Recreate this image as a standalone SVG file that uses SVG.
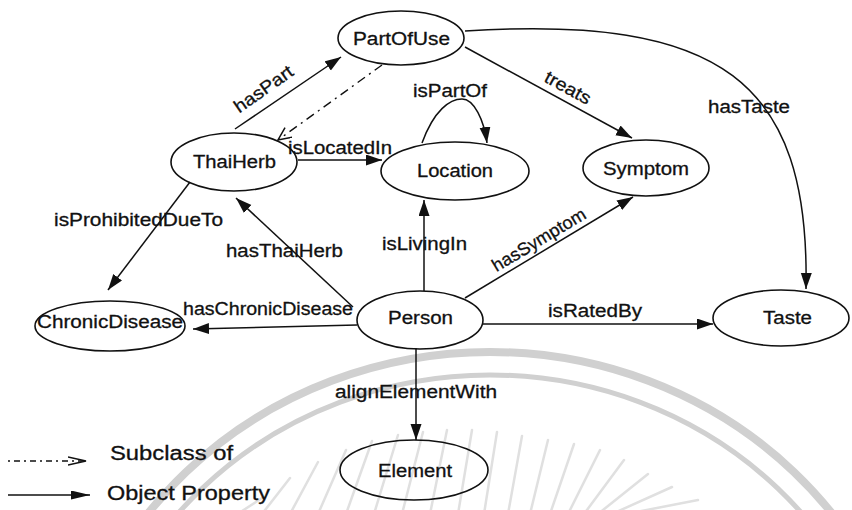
<svg xmlns="http://www.w3.org/2000/svg" width="852" height="510" viewBox="0 0 852 510">
  <defs>
    <marker id="arrow" markerUnits="userSpaceOnUse" markerWidth="17" markerHeight="12" refX="16" refY="5.5" orient="auto">
      <path d="M0,0 L16,5.5 L0,11 z" fill="#111"/>
    </marker>
    <marker id="open" markerUnits="userSpaceOnUse" markerWidth="16" markerHeight="14" refX="14" refY="6" orient="auto">
      <path d="M1,0 L14,6 L1,12" fill="none" stroke="#111" stroke-width="1.5"/>
    </marker>
    <marker id="legendArrow" markerUnits="userSpaceOnUse" markerWidth="20" markerHeight="10" refX="19" refY="4.5" orient="auto">
      <path d="M0,0 L19,4.5 L0,9 z" fill="#111"/>
    </marker>
    <marker id="legendOpen" markerUnits="userSpaceOnUse" markerWidth="20" markerHeight="12" refX="18" refY="5" orient="auto">
      <path d="M0,1 L18,5 L0,9" fill="none" stroke="#111" stroke-width="1.3"/>
    </marker>
  </defs>
  <style>
    .node ellipse { fill: none; stroke: #111; stroke-width: 1.6; }
    text { font-family: "Liberation Sans", Arial, sans-serif; font-size: 18px; fill: #111; stroke: #111; stroke-width: 0.3; }
    .nlabel { text-anchor: middle; }
    .edge { fill: none; stroke: #111; stroke-width: 1.5; marker-end: url(#arrow); }
    .sub { fill: none; stroke: #111; stroke-width: 1.4; stroke-dasharray: 9 5 2 5; marker-end: url(#open); }
    .legend text { font-size: 20px; }
    .seal { fill: none; stroke: #d0d0d0; }
    .ray { stroke: #e0e0e0; stroke-width: 2.5; stroke-linecap: round; }
  </style>

  <rect width="852" height="510" fill="#ffffff"/>

  <!-- faint seal in the background -->
  <g id="seal">
    <ellipse class="seal" cx="490" cy="762" rx="430" ry="410" stroke-width="8"/>
    <ellipse class="seal" cx="490" cy="762" rx="407" ry="387" stroke-width="5"/>
    <g>
      <line class="ray" x1="236" y1="515" x2="262" y2="498"/>
      <line class="ray" x1="262" y1="514" x2="290" y2="478"/>
      <line class="ray" x1="290" y1="514" x2="318" y2="462"/>
      <line class="ray" x1="318" y1="514" x2="346" y2="450"/>
      <line class="ray" x1="346" y1="514" x2="372" y2="441"/>
      <line class="ray" x1="374" y1="514" x2="398" y2="435"/>
      <line class="ray" x1="402" y1="514" x2="423" y2="432"/>
      <line class="ray" x1="430" y1="514" x2="447" y2="430"/>
      <line class="ray" x1="458" y1="514" x2="472" y2="430"/>
      <line class="ray" x1="484" y1="514" x2="497" y2="432"/>
      <line class="ray" x1="508" y1="514" x2="522" y2="436"/>
      <line class="ray" x1="530" y1="514" x2="548" y2="440"/>
      <line class="ray" x1="550" y1="514" x2="574" y2="444"/>
      <line class="ray" x1="568" y1="514" x2="600" y2="450"/>
      <line class="ray" x1="584" y1="514" x2="624" y2="460"/>
      <line class="ray" x1="598" y1="514" x2="648" y2="474"/>
      <line class="ray" x1="612" y1="514" x2="672" y2="487"/>
      <line class="ray" x1="626" y1="514" x2="698" y2="500"/>
    </g>
  </g>

  <!-- connectors -->
  <g id="connectors">
    <path class="edge" d="M235,129 L341,57"/>
    <path class="sub" d="M382,65 L278,140"/>
    <path class="edge" d="M298,160 L382,160"/>
    <path class="edge" d="M422,143 C434,110 450,99 462,99 C474,99 484,120 487,143"/>
    <path class="edge" d="M465,47 L632,138"/>
    <path class="edge" d="M465,31 C720,15 810,80 806,289"/>
    <path class="edge" d="M190,182 L108,290"/>
    <path class="edge" d="M353,307 L236,198"/>
    <path class="edge" d="M424,291 L424,200"/>
    <path class="edge" d="M465,298 L633,197"/>
    <path class="edge" d="M357,325 L193,329"/>
    <path class="edge" d="M483,324 L713,324"/>
    <path class="edge" d="M416,348 L416,440"/>

    <text transform="translate(267,94) rotate(-35.2)" text-anchor="middle" textLength="68" lengthAdjust="spacingAndGlyphs">hasPart</text>
    <text x="288" y="154" textLength="104" lengthAdjust="spacingAndGlyphs">isLocatedIn</text>
    <text x="413" y="97" textLength="74" lengthAdjust="spacingAndGlyphs">isPartOf</text>
    <text transform="translate(565,93) rotate(28.6)" text-anchor="middle" textLength="50" lengthAdjust="spacingAndGlyphs">treats</text>
    <text x="708" y="113" textLength="82" lengthAdjust="spacingAndGlyphs">hasTaste</text>
    <text x="54" y="226" textLength="169" lengthAdjust="spacingAndGlyphs">isProhibitedDueTo</text>
    <text x="226" y="257" textLength="117" lengthAdjust="spacingAndGlyphs">hasThaiHerb</text>
    <text x="382" y="250" textLength="85" lengthAdjust="spacingAndGlyphs">isLivingIn</text>
    <text transform="translate(542,245) rotate(-31)" text-anchor="middle" textLength="106" lengthAdjust="spacingAndGlyphs">hasSymptom</text>
    <text x="183" y="315" textLength="170" lengthAdjust="spacingAndGlyphs">hasChronicDisease</text>
    <text x="548" y="317" textLength="94" lengthAdjust="spacingAndGlyphs">isRatedBy</text>
    <text x="335" y="398" textLength="162" lengthAdjust="spacingAndGlyphs">alignElementWith</text>
  </g>

  <!-- classes -->
  <g id="PartOfUse" class="node">
    <ellipse cx="401" cy="38" rx="63" ry="27"/>
    <text class="nlabel" x="401.5" y="45" textLength="97" lengthAdjust="spacingAndGlyphs">PartOfUse</text>
  </g>
  <g id="ThaiHerb" class="node">
    <ellipse cx="234" cy="162" rx="63" ry="29"/>
    <text class="nlabel" x="234.5" y="168" textLength="83" lengthAdjust="spacingAndGlyphs">ThaiHerb</text>
  </g>
  <g id="Location" class="node">
    <ellipse cx="455" cy="171" rx="74" ry="29"/>
    <text class="nlabel" x="455" y="177" textLength="76" lengthAdjust="spacingAndGlyphs">Location</text>
  </g>
  <g id="Symptom" class="node">
    <ellipse cx="646" cy="168" rx="63" ry="28"/>
    <text class="nlabel" x="646" y="175" textLength="86" lengthAdjust="spacingAndGlyphs">Symptom</text>
  </g>
  <g id="ChronicDisease" class="node">
    <ellipse cx="110" cy="326" rx="75" ry="25"/>
    <text class="nlabel" x="110" y="328" textLength="146" lengthAdjust="spacingAndGlyphs">ChronicDisease</text>
  </g>
  <g id="Person" class="node">
    <ellipse cx="420" cy="320" rx="63" ry="29"/>
    <text class="nlabel" x="420.5" y="324" textLength="65" lengthAdjust="spacingAndGlyphs">Person</text>
  </g>
  <g id="Taste" class="node">
    <ellipse cx="781" cy="318" rx="68" ry="28"/>
    <text class="nlabel" x="787.5" y="324" textLength="49" lengthAdjust="spacingAndGlyphs">Taste</text>
  </g>
  <g id="Element" class="node">
    <ellipse cx="414" cy="470" rx="74" ry="30"/>
    <text class="nlabel" x="415" y="477" textLength="74" lengthAdjust="spacingAndGlyphs">Element</text>
  </g>

  <!-- key -->
  <g id="legend" class="legend">
    <path d="M8,461 L86,461" fill="none" stroke="#111" stroke-width="1.3" stroke-dasharray="2 4 6 4" marker-end="url(#legendOpen)"/>
    <text x="110" y="460" textLength="123" lengthAdjust="spacingAndGlyphs">Subclass of</text>
    <path d="M8,495 L90,495" fill="none" stroke="#111" stroke-width="1.5" marker-end="url(#legendArrow)"/>
    <text x="107" y="500" textLength="163" lengthAdjust="spacingAndGlyphs">Object Property</text>
  </g>
</svg>
